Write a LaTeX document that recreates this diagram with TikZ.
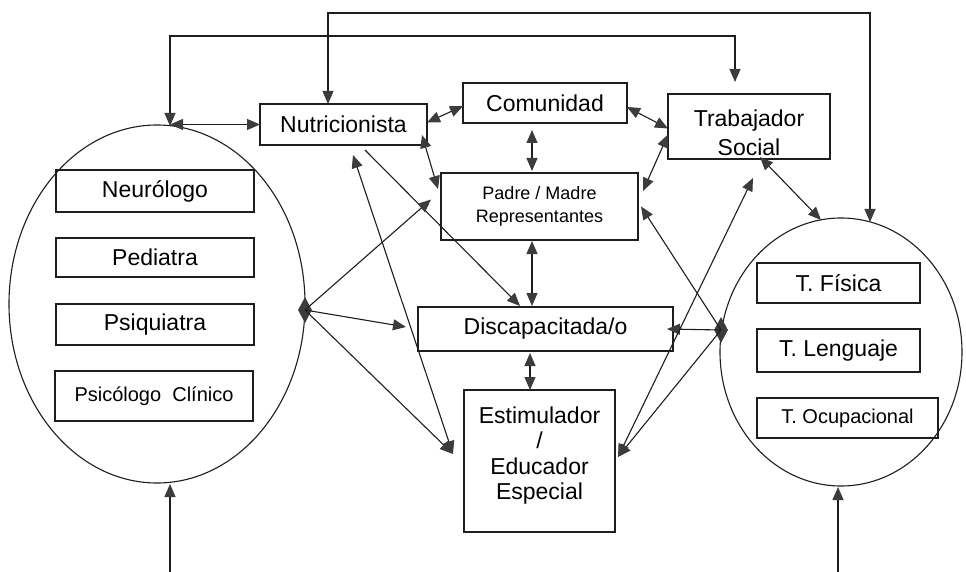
\documentclass[tikz,border=0pt]{standalone}
\usepackage{fontspec}
\setmainfont{Liberation Sans}
\usetikzlibrary{arrows.meta,shapes.geometric}
\definecolor{ink}{HTML}{1E1E1E}
\definecolor{tipc}{HTML}{3C3C3C}
\begin{document}
\begin{tikzpicture}[x=1pt,y=-1pt,
  line width=1.1pt, draw=ink,
  >={Triangle[length=13pt,width=11pt,color=tipc]},
  box/.style={draw=ink,line width=1.2pt,rectangle,inner sep=0pt,outer sep=0pt,
     font=\fontsize{23}{25.5}\selectfont,align=center},
  oval/.style={draw=ink,line width=1.1pt,ellipse,inner sep=0pt,outer sep=0pt},
  blob/.style={diamond,fill=tipc,draw=tipc,inner sep=0pt,minimum width=13pt,minimum height=24pt},
  link/.style={ink,line width=1.1pt}]
\useasboundingbox[fill=white] (0,0) rectangle (966,572);

% ellipses
\node[oval,minimum width=296pt,minimum height=358pt] (lell) at (157,304) {};
\node[oval,minimum width=242pt,minimum height=268pt] (rell) at (841,352) {};

% boxes in left ellipse
\node[box,minimum width=198pt,minimum height=42pt] (neuro) at (155,191) {Neurólogo};
\node[box,minimum width=198pt,minimum height=39pt] (pedia) at (155,257.5) {Pediatra};
\node[box,minimum width=198pt,minimum height=41pt] (psiq) at (155,324.5) {Psiquiatra};
\node[box,minimum width=198pt,minimum height=50pt,font=\fontsize{20}{24}\selectfont] (psico) at (154,396) {Psicólogo\ \ Clínico};

% boxes in right ellipse
\node[box,minimum width=163pt,minimum height=40pt] (tfis) at (838.5,283) {T. Física};
\node[box,minimum width=163pt,minimum height=43pt] (tlen) at (838.5,350.5) {T. Lenguaje};
\node[box,minimum width=181pt,minimum height=40pt,font=\fontsize{20}{24}\selectfont] (tocu) at (847.5,418) {T. Ocupacional};

% central boxes
\node[box,minimum width=167pt,minimum height=41pt] (nutri) at (343.5,124.5) {Nutricionista};
\node[box,minimum width=164pt,minimum height=40pt] (com) at (545,103) {Comunidad};
\node[box,minimum width=162pt,minimum height=65pt,font=\fontsize{23}{29}\selectfont] (trab) at (749,126.5) {\rule{0pt}{29pt}Trabajador\\Social};
\node[box,minimum width=197pt,minimum height=67pt,font=\fontsize{18}{22.5}\selectfont] (padre) at (539.5,206.5) {Padre / Madre\\Representantes};
\node[box,minimum width=255pt,minimum height=44pt] (disc) at (545.5,329) {Discapacitada/o};
\node[box,minimum width=151pt,minimum height=142pt] (estim) at (539.5,461) {Estimulador\\/\\Educador\\Especial\rule[-16pt]{0pt}{1pt}};

% junction blobs
\node[blob] (ld) at (305,310) {};
\node[blob] (rd) at (721,330) {};

% named free ends
\coordinate (ltop) at (170,126);
\coordinate (c2) at (170,36);
\coordinate (c1) at (328,13);
\coordinate (c1r) at (870,13);
\coordinate (rtop) at (870,222);
\coordinate (rtop2) at (821,220);
\coordinate (lb0) at (170,572);
\coordinate (lbot) at (170,484);
\coordinate (rb0) at (838,572);
\coordinate (rbot) at (838,487);
\coordinate (estL) at ([xshift=-11pt,yshift=7pt]estim.west);
\coordinate (estR) at ([xshift=3pt,yshift=4pt]estim.east);

% top frame connectors
\draw[link,<->] (nutri.north -| c1) -- (c1) -- (c1r) -- (rtop);
\draw[link,<->] (ltop) -- (c2) -| ([xshift=-14pt,yshift=12pt]trab.north);
\draw[link,<->] (nutri.west) -- (nutri.west -| ltop);

% bottom arrows
\draw[link,->] (lb0) -- (lbot);
\draw[link,->] (rb0) -- (rbot);

% central network
\draw[link,<->] ([yshift=2pt]nutri.east) -- ([yshift=-3pt]com.west);
\draw[link,<->] ([yshift=-4pt]com.east) -- ([yshift=-2pt]trab.west);
\draw[link,<->] ([xshift=-13pt,yshift=-7pt]com.south) -- ([xshift=-13pt,yshift=2pt]com.south |- padre.north);
\draw[link,<->] ([yshift=-8pt]trab.west) -- ([xshift=5pt,yshift=-18pt]padre.north east);
\draw[link,<->] ([xshift=-5pt,yshift=10pt]nutri.south east) -- ([xshift=-3pt,yshift=-16pt]padre.north west);
\draw[link,<->] ([xshift=-7.5pt,yshift=-1pt]padre.south) -- ([xshift=-7.5pt,yshift=1pt]padre.south |- disc.north);
\draw[link,->] ([xshift=21.5pt,yshift=-5pt]nutri.south) -- ([xshift=-25.5pt,yshift=1pt]disc.north);
\draw[link,<->] (estL) -- ([xshift=9.5pt,yshift=-10pt]nutri.south);
\draw[link,<->] ([xshift=-15.5pt,yshift=-2pt]disc.south) -- ([xshift=-15.5pt]disc.south |- estim.north);

% from left blob
\draw[link,->] (ld.center) -- ([xshift=-10pt,yshift=7pt]padre.west);
\draw[link,->] (ld.center) -- ([xshift=-12pt,yshift=2pt]disc.west);
\draw[link,->] (ld.center) -- (estL);

% from right blob
\draw[link,->] (rd.center) -- ([xshift=-6pt]disc.east);
\draw[link,->] (rd.center) -- ([xshift=3pt]padre.east);
\draw[link,->] (rd.center) -- (estR);
\draw[link,<->] (estR) -- ([xshift=4pt,yshift=-19pt]trab.south);
\draw[link,<->] ([xshift=11pt,yshift=2pt]trab.south) -- (rtop2);
\end{tikzpicture}
\end{document}
